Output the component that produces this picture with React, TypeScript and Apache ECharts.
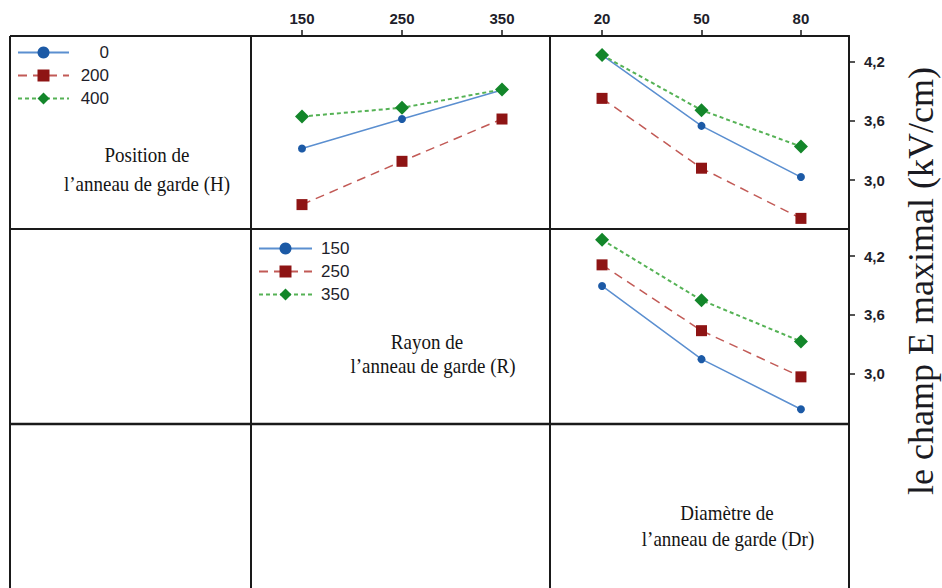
import React, { useEffect, useRef } from "react";
import * as echarts from "echarts";

// Factor levels
const H_LEVELS = ["0", "200", "400"];
const R_LEVELS = ["150", "250", "350"];
const R_VALUES = [150, 250, 350];
const DR_VALUES = [20, 50, 80];

// Mean E max (kV/cm) — panel H x R (x = R)
const HR_H0 = [3.32, 3.62, 3.915];
const HR_H200 = [2.75, 3.19, 3.62];
const HR_H400 = [3.645, 3.735, 3.92];

// Panel H x Dr (x = Dr)
const HD_H0 = [4.27, 3.55, 3.03];
const HD_H200 = [3.83, 3.12, 2.61];
const HD_H400 = [4.27, 3.71, 3.34];

// Panel R x Dr (x = Dr)
const RD_R150 = [3.895, 3.15, 2.64];
const RD_R250 = [4.11, 3.44, 2.97];
const RD_R350 = [4.365, 3.75, 3.33];

const Y_TICKS = [3.0, 3.6, 4.2];

const STYLES = [
  { symbol: "circle", symbolSize: 8, marker: "#1c5aa6", line: "#5b8fd0", type: "solid" as any, width: 1.5 },
  { symbol: "rect", symbolSize: 11, marker: "#8e1414", line: "#c25a56", type: [9, 6] as any, width: 1.5 },
  { symbol: "diamond", symbolSize: 14, marker: "#13862a", line: "#55b255", type: [4, 3] as any, width: 2 },
];

const INK = "#1e1e2a";

function mkSeries(name: string, xs: number[], ys: number[], idx: number, styleIdx: number) {
  const s = STYLES[styleIdx];
  return {
    type: "line",
    name,
    xAxisIndex: idx,
    yAxisIndex: idx,
    data: xs.map((x, i) => [x, ys[i]]),
    symbol: s.symbol,
    symbolSize: s.symbolSize,
    itemStyle: { color: s.marker },
    lineStyle: { color: s.line, type: s.type, width: s.width },
    z: 3 + styleIdx,
  };
}

export default function App() {
  const ref = useRef<HTMLDivElement>(null);
  useEffect(() => {
    if (!ref.current) return;
    const chart = echarts.init(ref.current, null, { renderer: "svg" });
    const tickLabelStyle = {
      fontFamily: "Liberation Sans",
      fontWeight: "bold" as any,
      fontSize: 15,
      color: INK,
    };
    const yFmt = (v: number) => v.toFixed(1).replace(".", ",");
    const lineEl = (x1: number, y1: number, x2: number, y2: number, w = 2) => ({
      type: "line",
      shape: { x1, y1, x2, y2 },
      style: { stroke: "#1a1a1a", lineWidth: w },
      z: 10,
    });
    const title = (x: number, y: number, text: string) => ({
      type: "text",
      x,
      y,
      scaleY: 1.15,
      style: {
        text,
        fontFamily: "Liberation Serif",
        fontSize: 19,
        fill: "#141414",
        align: "center",
        verticalAlign: "middle",
      },
      z: 10,
    });

    const option: any = {
      animation: false,
      backgroundColor: "#ffffff",
      grid: [
        { left: 251, top: 36, width: 299, height: 193 },
        { left: 550, top: 36, width: 299, height: 193 },
        { left: 550, top: 229, width: 299, height: 195 },
      ],
      xAxis: [
        {
          gridIndex: 0,
          type: "value",
          position: "top",
          min: 99,
          max: 398,
          splitLine: { show: false },
          axisLine: { show: true, lineStyle: { color: "#1a1a1a", width: 2 } },
          axisTick: { show: true, inside: false, length: 6, customValues: R_VALUES, lineStyle: { color: "#1a1a1a", width: 1.5 } },
          axisLabel: { show: true, margin: 10, customValues: R_VALUES, ...tickLabelStyle },
        },
        {
          gridIndex: 1,
          type: "value",
          position: "top",
          min: 4.3,
          max: 94.5,
          splitLine: { show: false },
          axisLine: { show: true, lineStyle: { color: "#1a1a1a", width: 2 } },
          axisTick: { show: true, inside: false, length: 6, customValues: DR_VALUES, lineStyle: { color: "#1a1a1a", width: 1.5 } },
          axisLabel: { show: true, margin: 10, customValues: DR_VALUES, ...tickLabelStyle },
        },
        {
          gridIndex: 2,
          type: "value",
          position: "top",
          min: 4.3,
          max: 94.5,
          show: false,
        },
      ],
      yAxis: [
        {
          gridIndex: 0,
          type: "value",
          min: 2.502,
          max: 4.464,
          show: false,
        },
        {
          gridIndex: 1,
          type: "value",
          position: "right",
          min: 2.502,
          max: 4.464,
          splitLine: { show: false },
          axisLine: { show: true, lineStyle: { color: "#1a1a1a", width: 2 } },
          axisTick: { show: true, inside: false, length: 6, customValues: Y_TICKS, lineStyle: { color: "#1a1a1a", width: 1.5 } },
          axisLabel: { show: true, margin: 15, customValues: Y_TICKS, formatter: yFmt, ...tickLabelStyle },
        },
        {
          gridIndex: 2,
          type: "value",
          position: "right",
          min: 2.49,
          max: 4.475,
          splitLine: { show: false },
          axisLine: { show: true, lineStyle: { color: "#1a1a1a", width: 2 } },
          axisTick: { show: true, inside: false, length: 6, customValues: Y_TICKS, lineStyle: { color: "#1a1a1a", width: 1.5 } },
          axisLabel: { show: true, margin: 15, customValues: Y_TICKS, formatter: yFmt, ...tickLabelStyle },
        },
      ],
      legend: [
        {
          data: H_LEVELS,
          orient: "vertical",
          left: 17,
          top: 44,
          itemWidth: 51,
          itemHeight: 15,
          itemGap: 6,
          selectedMode: false,
          padding: 0,
          formatter: "{r|{name}}",
          textStyle: {
            lineHeight: 14,
            rich: {
              r: { width: 35, align: "right", fontSize: 17, fontFamily: "Liberation Sans", color: INK, lineHeight: 14 },
            },
          },
        },
        {
          data: R_LEVELS,
          orient: "vertical",
          left: 258,
          top: 240,
          itemWidth: 53,
          itemHeight: 15,
          itemGap: 6,
          selectedMode: false,
          padding: 0,
          formatter: "{r|{name}}",
          textStyle: {
            lineHeight: 14,
            rich: {
              r: { padding: [0, 0, 0, 4], fontSize: 17, fontFamily: "Liberation Sans", color: INK, lineHeight: 14 },
            },
          },
        },
      ],
      series: [
        mkSeries(H_LEVELS[0], R_VALUES, HR_H0, 0, 0),
        mkSeries(H_LEVELS[1], R_VALUES, HR_H200, 0, 1),
        mkSeries(H_LEVELS[2], R_VALUES, HR_H400, 0, 2),
        mkSeries(H_LEVELS[0], DR_VALUES, HD_H0, 1, 0),
        mkSeries(H_LEVELS[1], DR_VALUES, HD_H200, 1, 1),
        mkSeries(H_LEVELS[2], DR_VALUES, HD_H400, 1, 2),
        mkSeries(R_LEVELS[0], DR_VALUES, RD_R150, 2, 0),
        mkSeries(R_LEVELS[1], DR_VALUES, RD_R250, 2, 1),
        mkSeries(R_LEVELS[2], DR_VALUES, RD_R350, 2, 2),
      ],
      graphic: [
        lineEl(10, 36, 849, 36),
        lineEl(10, 229, 849, 229),
        lineEl(10, 424, 849, 424, 2.5),
        lineEl(10, 36, 10, 588),
        lineEl(251, 36, 251, 588, 2),
        lineEl(550, 36, 550, 588),
        lineEl(849, 36, 849, 588),
        title(147, 155, "Position de"),
        title(147, 184, "l\u2019anneau de garde (H)"),
        title(427, 342, "Rayon de"),
        title(433, 366, "l\u2019anneau de garde (R)"),
        title(727, 513, "Diamètre de"),
        title(728, 539, "l\u2019anneau de garde (Dr)"),
        {
          type: "text",
          x: 921,
          y: 281,
          rotation: Math.PI / 2,
          style: {
            text: "le champ E maximal (kV/cm)",
            fontFamily: "Liberation Serif",
            fontSize: 36,
            fill: "#1a1a22",
            align: "center",
            verticalAlign: "middle",
          },
          z: 10,
        },
      ],
    };
    chart.setOption(option);
    return () => chart.dispose();
  }, []);
  return (
    <div
      ref={ref}
      style={{ position: "absolute", left: 0, top: 0, width: 942, height: 588, background: "#fff" }}
    />
  );
}
